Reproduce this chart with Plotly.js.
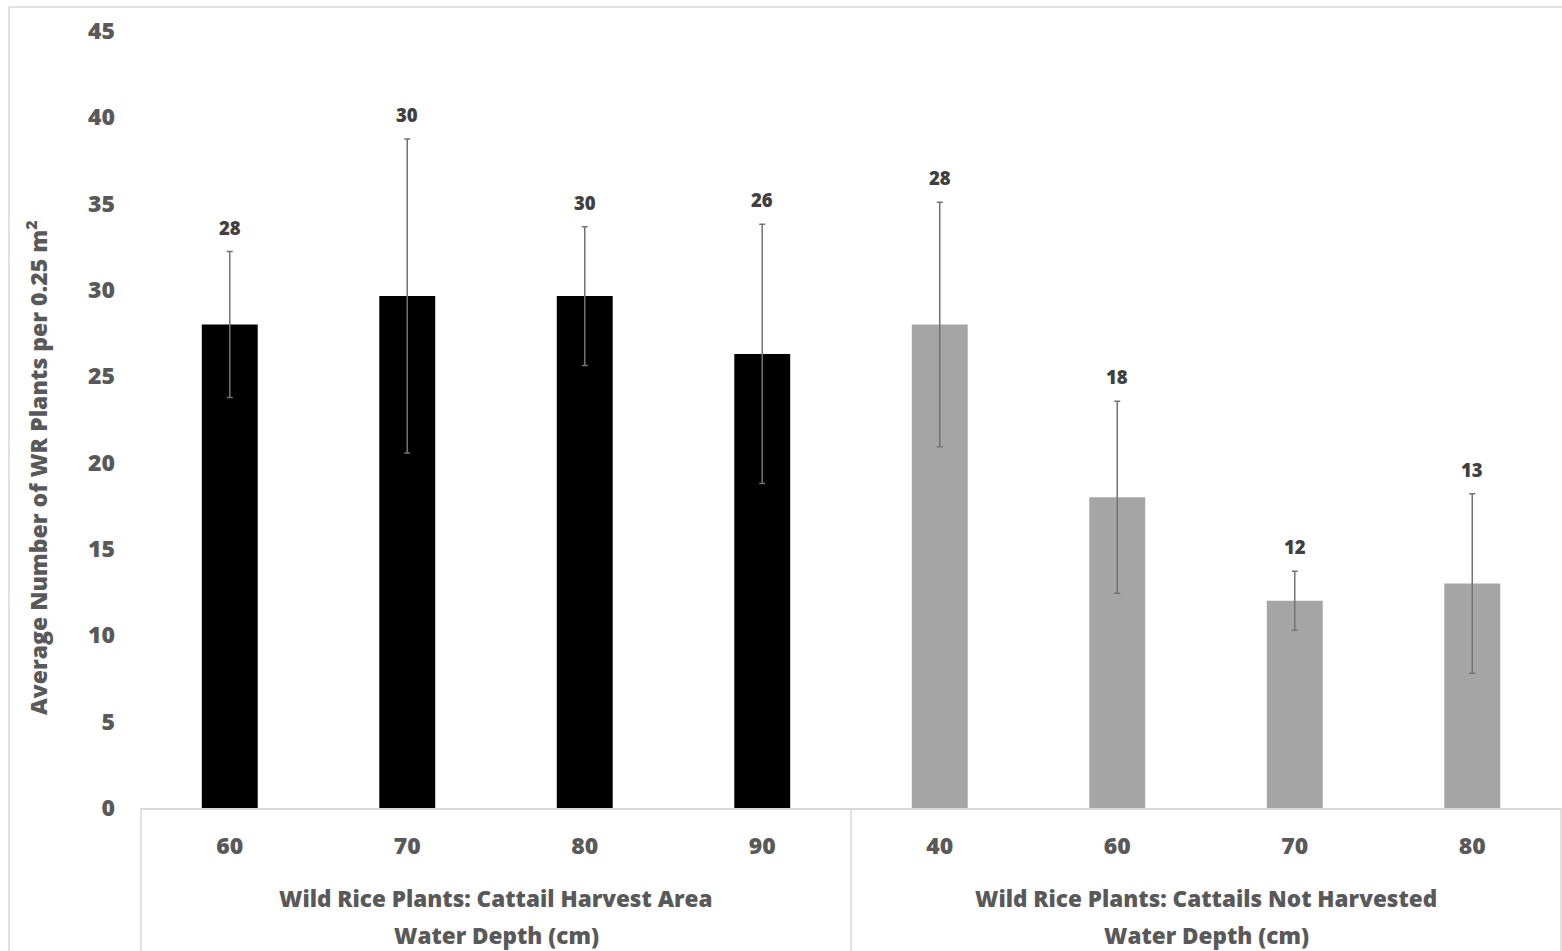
<!DOCTYPE html>
<html>
<head>
<meta charset="utf-8">
<script src="https://cdn.plot.ly/plotly-3.0.1.min.js"></script>
<style>
  html, body { margin: 0; padding: 0; background: #ffffff; }
  #chart { width: 1562px; height: 951px; }
</style>
</head>
<body>
<div id="chart"></div>
<script>
// ---- data ----
const depths = ["60", "70", "80", "90", "40", "60", "70", "80"];
const groupOf = [0, 0, 0, 0, 1, 1, 1, 1];
const groupNames = ["Wild Rice Plants: Cattail Harvest Area", "Wild Rice Plants: Cattails Not Harvested"];
const groupSubtitle = "Water Depth (cm)";
const means = [28, 29.65, 29.65, 26.3, 28, 18, 12, 13];
const errors = [4.23, 9.09, 4.02, 7.51, 7.08, 5.56, 1.71, 5.2];
const groupColors = ["#000000", "#a5a5a5"];
const yTitle = "Average Number of WR Plants per 0.25 m<sup>2</sup>";

const FONT = "'Open Sans', 'Noto Sans', sans-serif";
const WT = 800;
const idx = depths.map((_, i) => i);

const W = 1562, H = 951;
const margin = { l: 141, r: 1, t: 31, b: 143 };
const plotH = H - margin.t - margin.b;
const plotW = W - margin.l - margin.r;

const trace = {
  type: "bar",
  x: idx,
  y: means,
  width: 0.315,
  marker: { color: groupOf.map(g => groupColors[g]), line: { width: 0 } },
  error_y: { type: "data", array: errors, visible: true, color: "#737373", thickness: 1.5, width: 3 },
  hoverinfo: "none"
};

const annotations = [];
means.forEach((m, i) => {
  annotations.push({
    x: i, y: m + errors[i], xref: "x", yref: "y",
    text: String(Math.round(m)),
    showarrow: false, yanchor: "bottom", yshift: 10,
    font: { family: FONT, size: 18.5, color: "#404040", weight: WT }
  });
});
groupNames.forEach((name, g) => {
  const members = idx.filter(i => groupOf[i] === g);
  const cx = (members[0] + members[members.length - 1]) / 2;
  annotations.push({
    x: cx, y: -(899 - (H - margin.b)) / plotH, xref: "x", yref: "paper",
    text: name, showarrow: false, yanchor: "middle",
    font: { family: FONT, size: 22.5, color: "#595959", weight: WT }
  });
  annotations.push({
    x: cx, y: -(935 - (H - margin.b)) / plotH, xref: "x", yref: "paper",
    text: groupSubtitle, showarrow: false, yanchor: "middle",
    font: { family: FONT, size: 22.5, color: "#595959", weight: WT }
  });
});
annotations.push({
  x: (37 - margin.l) / plotW, y: (H - margin.b - 468) / plotH, xref: "paper", yref: "paper",
  text: yTitle, textangle: -90, showarrow: false, xanchor: "center", yanchor: "middle",
  font: { family: FONT, size: 23, color: "#595959", weight: WT }
});

const lineC = "#d9d9d9";
const bottomY = -(margin.b + 5) / plotH;
const shapes = [
  { type: "line", xref: "paper", yref: "paper", x0: 0, x1: 0, y0: 0, y1: bottomY, line: { color: lineC, width: 1.5 } },
  { type: "line", xref: "paper", yref: "paper", x0: 0.5, x1: 0.5, y0: 0, y1: bottomY, line: { color: lineC, width: 1.5 } },
  { type: "line", xref: "paper", yref: "paper", x0: 1, x1: 1, y0: 0, y1: bottomY, line: { color: lineC, width: 1.5 } },
  { type: "line", xref: "paper", yref: "paper", x0: (9 - margin.l) / plotW, x1: (9 - margin.l) / plotW, y0: (H - margin.b - 7) / plotH, y1: bottomY, line: { color: lineC, width: 1.5 } },
  { type: "line", xref: "paper", yref: "paper", x0: (9 - margin.l) / plotW, x1: 1.01, y0: (H - margin.b - 7) / plotH, y1: (H - margin.b - 7) / plotH, line: { color: lineC, width: 1.5 } }
];

const layout = {
  width: W, height: H,
  margin: margin,
  paper_bgcolor: "#ffffff",
  plot_bgcolor: "#ffffff",
  showlegend: false,
  font: { family: FONT, color: "#595959" },
  xaxis: {
    range: [-0.5, 7.5],
    tickvals: idx, ticktext: depths,
    showgrid: false, zeroline: false,
    showline: true, linecolor: lineC, linewidth: 1.5,
    ticks: "", ticklabelstandoff: 17,
    tickfont: { family: FONT, size: 23, color: "#595959", weight: WT },
    fixedrange: true
  },
  yaxis: {
    range: [0, 45],
    tickmode: "linear", tick0: 0, dtick: 5,
    showgrid: false, zeroline: false, showline: false,
    ticks: "", ticklabelstandoff: 25,
    tickfont: { family: FONT, size: 23, color: "#595959", weight: WT },
    fixedrange: true
  },
  annotations: annotations,
  shapes: shapes
};

Plotly.newPlot("chart", [trace], layout, { displayModeBar: false, staticPlot: true });
</script>
</body>
</html>
